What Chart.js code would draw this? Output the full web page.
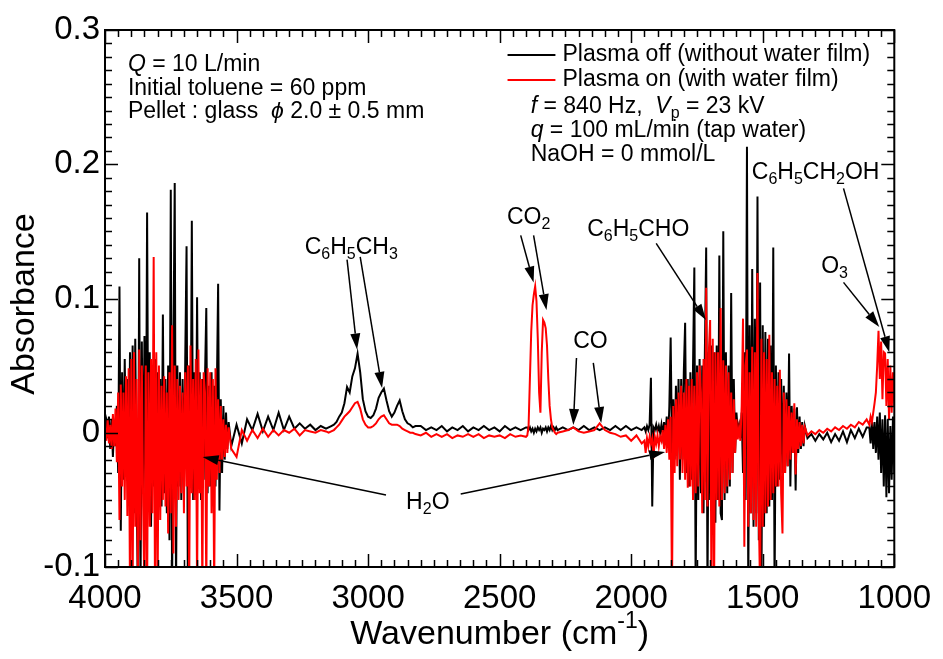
<!DOCTYPE html>
<html>
<head>
<meta charset="utf-8">
<script src="https://cdn.jsdelivr.net/npm/chart.js@4.4.1/dist/chart.umd.min.js"></script>
<style>
  body { margin: 0; background: #fff; }
  #wrap { width: 943px; height: 659px; }
</style>
</head>
<body>
<div id="wrap"><canvas id="spectrumChart" width="943" height="659"></canvas></div>
<script>
// sampling grid of the spectrum: [from, to, step] in cm-1
const gridSegments = [
  [4000, 3530, 5], [3520, 3160, 20], [3150, 2820, 10], [2800, 2400, 20],
  [2395, 2280, 5], [2260, 1960, 20], [1950, 1340, 5], [1330, 1105, 15], [1095, 1000, 5]
];

// Plasma off (without water film), one value per grid point
const absOff = [
  // 4000 - 3530
  0.002, 0.008, -0.004, 0.012, -0.012, 0.010, -0.018, 0.006, -0.010, 0.020,
  -0.030, 0.109, -0.073, 0.045, -0.035, 0.055, -0.020, 0.040, -0.045, 0.060,
  -0.050, 0.065, -0.060, 0.070, -0.040, -0.120, 0.130, -0.120, 0.068, -0.045,
  0.072, -0.060, 0.164, -0.050, 0.060, -0.070, 0.050, -0.040, 0.055, -0.060,
  0.045, -0.050, 0.040, -0.055, 0.088, -0.045, 0.040, -0.060, 0.050, -0.080,
  0.181, -0.120, 0.060, 0.186, -0.120, 0.050, -0.040, 0.045, -0.050, 0.040,
  -0.045, 0.055, 0.139, -0.120, 0.050, -0.040, 0.158, -0.050, 0.045, -0.045,
  0.101, -0.040, 0.045, -0.050, 0.040, -0.035, 0.040, 0.093, -0.045, 0.035,
  -0.040, 0.045, -0.030, 0.035, -0.040, 0.030, 0.111, -0.058, 0.025, -0.030,
  0.020, -0.020, 0.015, -0.012, 0.008,
  // 3520 - 3160
  -0.010, 0.006, -0.008, 0.010, 0.002, 0.014, 0.001, 0.012, 0.002, 0.015,
  0.002, 0.012, 0.003, 0.007, 0.003, 0.006, 0.002, 0.005, 0.003,
  // 3150 - 2820
  0.004, 0.005, 0.006, 0.008, 0.012, 0.015, 0.022, 0.034, 0.030, 0.042,
  0.048, 0.059, 0.045, 0.025, 0.016, 0.012, 0.011, 0.013, 0.018, 0.026,
  0.030, 0.033, 0.024, 0.016, 0.012, 0.015, 0.020, 0.024, 0.016, 0.010,
  0.007, 0.006, 0.004, 0.005,
  // 2800 - 2400
  0.005, 0.002, 0.004, 0.002, 0.005, 0.001, 0.004, 0.002, 0.005, 0.001,
  0.004, 0.002, 0.005, 0.002, 0.004, 0.001, 0.005, 0.002, 0.004, 0.002, 0.004,
  // 2395 - 2280
  0.004, 0.002, 0.004, 0.001, 0.003, 0.000, 0.003, 0.001, 0.004, 0.002,
  0.004, 0.000, 0.003, 0.002, 0.004, 0.001, 0.004, 0.002, 0.005, 0.002,
  0.004, 0.002, 0.004, 0.002,
  // 2260 - 1960
  0.004, 0.002, 0.004, 0.002, 0.005, 0.002, 0.004, 0.002, 0.004, 0.002,
  0.005, 0.002, 0.005, 0.002, 0.004, 0.002,
  // 1950 - 1340
  0.004, 0.001, 0.005, 0.002, 0.006, 0.041, -0.055, 0.004, 0.002, 0.006,
  0.001, 0.005, 0.000, 0.006, -0.002, 0.008, -0.004, 0.012, -0.010, 0.020,
  0.071, -0.015, 0.025, -0.020, 0.035, -0.010, 0.040, -0.035, 0.040, -0.020,
  0.045, 0.082, -0.030, 0.040, -0.040, 0.045, -0.035, 0.050, 0.123, -0.120,
  0.050, -0.050, 0.055, -0.045, 0.050, -0.060, 0.060, 0.138, -0.120, 0.060,
  -0.050, 0.065, -0.055, 0.060, -0.067, 0.065, -0.050, 0.132, -0.060, -0.065,
  0.150, -0.050, 0.060, -0.045, 0.050, -0.040, 0.104, -0.030, 0.040, -0.015,
  0.015, 0.002, 0.006, -0.004, 0.015, -0.030, 0.060, -0.050, 0.213, -0.120,
  0.080, -0.060, 0.122, -0.070, 0.085, -0.060, 0.176, -0.080, 0.112, -0.120,
  0.080, -0.070, 0.075, -0.060, 0.070, -0.055, 0.065, -0.050, 0.138, -0.120,
  0.050, -0.040, 0.045, -0.035, 0.040, -0.030, 0.035, -0.030, 0.030, -0.025,
  0.059, -0.040, 0.020, -0.015, 0.018, -0.043, 0.019, -0.015, 0.012, -0.012,
  0.008, -0.010, 0.005,
  // 1330 - 1105
  -0.004, -0.001, -0.006, -0.001, -0.005, 0.000, -0.007, -0.001, -0.006, 0.001,
  -0.007, 0.002, -0.004, 0.003, -0.003, 0.004,
  // 1095 - 1000
  0.004, -0.008, 0.010, -0.012, 0.008, -0.015, 0.012, -0.020, 0.015, -0.030,
  0.010, -0.040, 0.013, -0.048, 0.010, -0.045, 0.005, -0.035, 0.012, -0.030
];

// Plasma on (with water film)
const absOn = [
  // 4000 - 3530
  0.004, -0.006, 0.010, -0.008, 0.006, -0.012, 0.014, -0.010, 0.018, -0.022,
  0.030, -0.065, 0.036, -0.040, 0.030, -0.050, 0.042, -0.062, 0.048, -0.120,
  0.055, -0.120, 0.060, -0.070, 0.040, -0.120, 0.062, -0.080, 0.050, -0.055,
  -0.120, 0.050, -0.120, 0.045, -0.070, 0.055, -0.060, 0.131, -0.120, 0.060,
  -0.120, 0.050, -0.065, 0.035, -0.050, 0.042, -0.055, 0.030, -0.075, 0.045,
  -0.060, 0.080, -0.090, 0.050, -0.070, 0.040, -0.050, 0.035, -0.045, 0.030,
  -0.060, 0.045, -0.040, 0.050, -0.120, 0.065, -0.045, 0.040, -0.050, 0.055,
  -0.120, 0.062, -0.045, 0.040, -0.120, 0.045, 0.030, -0.120, 0.048, -0.040,
  0.045, -0.060, 0.040, -0.120, 0.048, -0.035, 0.025, -0.030, 0.020, -0.020,
  0.010, -0.018, 0.006, -0.015, 0.004,
  // 3520 - 3160
  -0.012, -0.018, 0.002, -0.006, 0.002, -0.004, 0.003, -0.003, 0.002, -0.002,
  0.002, 0.000, 0.003, -0.002, 0.002, 0.001, 0.000, 0.002, 0.001,
  // 3150 - 2820
  0.000, 0.001, 0.002, 0.004, 0.006, 0.009, 0.012, 0.014, 0.016, 0.019,
  0.022, 0.023, 0.018, 0.010, 0.006, 0.004, 0.004, 0.005, 0.007, 0.010,
  0.012, 0.013, 0.010, 0.007, 0.006, 0.006, 0.006, 0.005, 0.003, 0.002,
  0.001, 0.000, 0.000, -0.001,
  // 2800 - 2400
  -0.002, 0.000, -0.003, -0.001, -0.003, -0.001, -0.004, -0.002, -0.003, -0.001,
  -0.003, -0.001, -0.004, -0.002, -0.003, -0.002, -0.004, -0.001, -0.003, -0.002, -0.003,
  // 2395 - 2280 (CO2)
  -0.002, 0.005, 0.040, 0.075, 0.095, 0.103, 0.109, 0.098, 0.070, 0.030,
  0.015, 0.060, 0.084, 0.082, 0.078, 0.065, 0.040, 0.020, 0.010, 0.004,
  0.002, 0.000, -0.001, 0.000,
  // 2260 - 1960 (CO)
  0.001, 0.002, 0.004, 0.001, 0.000, 0.001, 0.002, 0.007, 0.002, 0.000,
  -0.001, -0.003, -0.002, -0.006, -0.002, -0.008,
  // 1950 - 1340
  -0.006, -0.015, -0.004, -0.010, -0.003, -0.008, -0.004, -0.019, -0.003, -0.008,
  -0.002, -0.010, -0.003, -0.006, 0.002, -0.012, 0.006, -0.015, 0.010, -0.020,
  0.012, -0.120, 0.020, -0.030, 0.025, -0.025, 0.030, -0.020, 0.035, -0.030,
  0.030, -0.035, 0.040, -0.041, 0.035, -0.040, 0.040, -0.050, 0.035, -0.045,
  0.045, -0.040, 0.050, 0.030, -0.060, 0.055, -0.050, 0.108, -0.055, 0.060,
  0.084, -0.120, 0.070, -0.120, 0.060, -0.050, 0.060, -0.055, 0.093, -0.050,
  0.054, -0.045, 0.050, -0.040, 0.045, -0.035, 0.030, -0.030, 0.025, -0.015,
  0.010, -0.005, 0.004, -0.006, 0.020, 0.085, -0.085, 0.050, 0.062, -0.070,
  0.045, -0.060, 0.064, -0.065, 0.060, -0.070, 0.119, -0.060, -0.120, 0.070,
  -0.070, 0.060, -0.060, 0.055, -0.055, 0.073, -0.050, 0.045, -0.045, 0.040,
  -0.040, 0.035, -0.040, 0.047, -0.045, -0.075, 0.030, -0.030, 0.025, -0.025,
  0.020, -0.020, 0.015, -0.015, 0.022, -0.031, 0.010, -0.012, 0.008, -0.010,
  0.006, -0.008, 0.004,
  // 1330 - 1105
  -0.002, 0.001, -0.001, 0.002, 0.000, 0.003, 0.001, 0.004, 0.002, 0.005,
  0.003, 0.006, 0.004, 0.008, 0.006, 0.010,
  // 1095 - 1000 (O3)
  0.006, 0.012, 0.008, 0.015, 0.022, 0.030, 0.050, 0.076, 0.040, 0.068,
  0.025, 0.060, 0.059, 0.020, 0.055, 0.010, 0.050, 0.015, 0.045, 0.020
];

const seriesNames = ['Plasma off (without water film)', 'Plasma on (with water film)'];
const seriesColors = ['#000000', '#ff0000'];

const xTickValues = [4000, 3500, 3000, 2500, 2000, 1500, 1000];
const yTickValues = [-0.1, 0, 0.1, 0.2, 0.3];
const yTickLabels = ['-0.1', '0', '0.1', '0.2', '0.3'];

// peak labels, placed in data units [wavenumber, absorbance]
const peakLabels = [
  { parts: [['C', ''], ['6', 'sub'], ['H', ''], ['5', 'sub'], ['CH', ''], ['3', 'sub']], at: [3064, 0.138] },
  { parts: [['CO', ''], ['2', 'sub']], at: [2390, 0.160] },
  { parts: [['CO', '']], at: [2155, 0.0676] },
  { parts: [['C', ''], ['6', 'sub'], ['H', ''], ['5', 'sub'], ['CHO', '']], at: [1973, 0.151] },
  { parts: [['C', ''], ['6', 'sub'], ['H', ''], ['5', 'sub'], ['CH', ''], ['2', 'sub'], ['OH', '']], at: [1299, 0.194] },
  { parts: [['O', ''], ['3', 'sub']], at: [1227, 0.1235] },
  { parts: [['H', ''], ['2', 'sub'], ['O', '']], at: [2773, -0.0523] }
];
// arrows: [fromWn, fromAbs, toWn, toAbs]
const peakArrows = [
  [3080, 0.129, 3042, 0.062], [3030, 0.131, 2947, 0.0334],
  [2420, 0.147, 2371, 0.112], [2371, 0.147, 2322, 0.0914],
  [2208, 0.0557, 2220, 0.0058], [2144, 0.052, 2114, 0.0073],
  [1905, 0.141, 1716, 0.084],
  [1193, 0.182, 1019, 0.060],
  [1193, 0.112, 1057, 0.0788],
  [2932, -0.0464, 3629, -0.018], [2648, -0.0456, 1871, -0.0143]
];

const conditionsLeft = [
  [['Q', 'i'], [' = 10 L/min', '']],
  [['Initial toluene = 60 ppm', '']],
  [['Pellet : glass  ', ''], ['\u03d5', 'i'], [' 2.0 \u00b1 0.5 mm', '']]
];
const conditionsRight = [
  [['f', 'i'], [' = 840 Hz,  ', ''], ['V', 'i'], ['p', 'sub'], [' = 23 kV', '']],
  [['q', 'i'], [' = 100 mL/min (tap water)', '']],
  [['NaOH = 0 mmol/L', '']]
];

const FONT = '"Liberation Sans", Arial, sans-serif';
const TEXT_SIZE = 23;

const wavenumbers = [];
gridSegments.forEach(([from, to, step]) => {
  for (let w = from; w >= to; w -= step) wavenumbers.push(w);
});
if (wavenumbers.length !== absOff.length || wavenumbers.length !== absOn.length) {
  console.error('length mismatch', wavenumbers.length, absOff.length, absOn.length);
}

function fontFor(style, size) {
  const small = style === 'sub' || style === 'sup';
  const s = small ? Math.round(size * 0.68) : size;
  return (style === 'i' ? 'italic ' : '') + s + 'px ' + FONT;
}

function drawRich(ctx, parts, x, y, size, align) {
  let w = 0;
  parts.forEach(p => { ctx.font = fontFor(p[1], size); w += ctx.measureText(p[0]).width; });
  let cx = align === 'center' ? x - w / 2 : x;
  ctx.textAlign = 'left';
  ctx.textBaseline = 'middle';
  parts.forEach(p => {
    ctx.font = fontFor(p[1], size);
    const dy = p[1] === 'sub' ? size * 0.3 : p[1] === 'sup' ? -size * 0.38 : 0;
    ctx.fillText(p[0], cx, y + dy);
    cx += ctx.measureText(p[0]).width;
  });
}

function drawArrow(ctx, x1, y1, x2, y2) {
  const ang = Math.atan2(y2 - y1, x2 - x1);
  const len = 16, half = 5;
  const bx = x2 - Math.cos(ang) * len, by = y2 - Math.sin(ang) * len;
  ctx.beginPath();
  ctx.moveTo(x1, y1);
  ctx.lineTo(bx, by);
  ctx.stroke();
  ctx.beginPath();
  ctx.moveTo(x2, y2);
  ctx.lineTo(bx - Math.sin(ang) * half, by + Math.cos(ang) * half);
  ctx.lineTo(bx + Math.sin(ang) * half, by - Math.cos(ang) * half);
  ctx.closePath();
  ctx.fill();
}

const frameAndTicks = {
  id: 'frameAndTicks',
  afterDatasetsDraw(chart) {
    const { ctx, chartArea: a, scales: { x, y } } = chart;
    ctx.save();
    ctx.strokeStyle = '#000';
    ctx.lineWidth = 1.5;
    ctx.beginPath();
    for (let v = 1000; v <= 4000; v += 50) {
      const px = Math.round(x.getPixelForValue(v)) + 0.5;
      const len = v % 500 === 0 ? 13 : 7;
      ctx.moveTo(px, a.bottom); ctx.lineTo(px, a.bottom - len);
      ctx.moveTo(px, a.top); ctx.lineTo(px, a.top + len);
    }
    for (let k = -10; k <= 30; k++) {
      const py = Math.round(y.getPixelForValue(k / 100)) + 0.5;
      const len = k % 10 === 0 ? 13 : 7;
      ctx.moveTo(a.left, py); ctx.lineTo(a.left + len, py);
      ctx.moveTo(a.right, py); ctx.lineTo(a.right - len, py);
    }
    ctx.stroke();
    ctx.lineWidth = 2;
    ctx.strokeRect(a.left, a.top, a.right - a.left, a.bottom - a.top);
    ctx.restore();
  }
};

const annotations = {
  id: 'annotations',
  afterDraw(chart) {
    const { ctx, chartArea: a, scales: { x, y } } = chart;
    const px = v => x.getPixelForValue(v);
    const py = v => y.getPixelForValue(v);
    ctx.save();
    ctx.fillStyle = '#000';
    ctx.strokeStyle = '#000';
    ctx.lineWidth = 1.5;

    peakLabels.forEach(l => drawRich(ctx, l.parts, px(l.at[0]), py(l.at[1]), TEXT_SIZE, 'center'));
    peakArrows.forEach(r => drawArrow(ctx, px(r[0]), py(r[1]), px(r[2]), py(r[3])));

    conditionsLeft.forEach((line, i) => drawRich(ctx, line, px(3913), py(0.274) + i * 23.5, TEXT_SIZE, 'left'));
    conditionsRight.forEach((line, i) => drawRich(ctx, line, px(2382), py(0.2426) + i * 24, TEXT_SIZE, 'left'));

    // legend
    seriesNames.forEach((name, i) => {
      const ly = py(0.2814) + i * 25;
      ctx.strokeStyle = seriesColors[i];
      ctx.lineWidth = 2;
      ctx.beginPath();
      ctx.moveTo(px(2470), ly); ctx.lineTo(px(2288), ly);
      ctx.stroke();
      ctx.fillStyle = '#000';
      drawRich(ctx, [[name, '']], px(2261), ly, TEXT_SIZE, 'left');
    });

    // axis titles
    drawRich(ctx, [['Wavenumber (cm', ''], ['-1', 'sup'], [')', '']], (a.left + a.right) / 2, 635, 34, 'center');
    ctx.translate(25, 304);
    ctx.rotate(-Math.PI / 2);
    drawRich(ctx, [['Absorbance', '']], 0, 0, 34, 'center');
    ctx.restore();
  }
};

new Chart(document.getElementById('spectrumChart'), {
  type: 'line',
  data: {
    datasets: [
      {
        label: seriesNames[0],
        data: wavenumbers.map((w, i) => ({ x: w, y: absOff[i] })),
        borderColor: seriesColors[0],
        borderWidth: 2,
        pointRadius: 0,
        tension: 0,
        order: 2
      },
      {
        label: seriesNames[1],
        data: wavenumbers.map((w, i) => ({ x: w, y: absOn[i] })),
        borderColor: seriesColors[1],
        borderWidth: 2,
        pointRadius: 0,
        tension: 0,
        order: 1
      }
    ]
  },
  options: {
    responsive: false,
    animation: false,
    devicePixelRatio: 1,
    layout: { padding: { left: 0, top: 30, right: 46, bottom: 0 } },
    plugins: { legend: { display: false }, tooltip: { enabled: false } },
    scales: {
      x: {
        type: 'linear',
        reverse: true,
        min: 1000,
        max: 4000,
        grid: { display: false, drawTicks: false },
        border: { display: false },
        afterBuildTicks: s => { s.ticks = xTickValues.map(v => ({ value: v })); },
        afterFit: s => { s.height = 92; },
        ticks: {
          autoSkip: false,
          maxRotation: 0,
          padding: 12,
          color: '#000',
          font: { size: 33, family: FONT },
          callback: v => String(v)
        }
      },
      y: {
        min: -0.1,
        max: 0.3,
        grid: { display: false, drawTicks: false },
        border: { display: false },
        afterBuildTicks: s => { s.ticks = yTickValues.map(v => ({ value: v })); },
        afterFit: s => { s.width = 105; },
        ticks: {
          padding: 5,
          color: '#000',
          font: { size: 33, family: FONT },
          callback: (v, i) => yTickLabels[i]
        }
      }
    }
  },
  plugins: [frameAndTicks, annotations]
});
</script>
</body>
</html>
